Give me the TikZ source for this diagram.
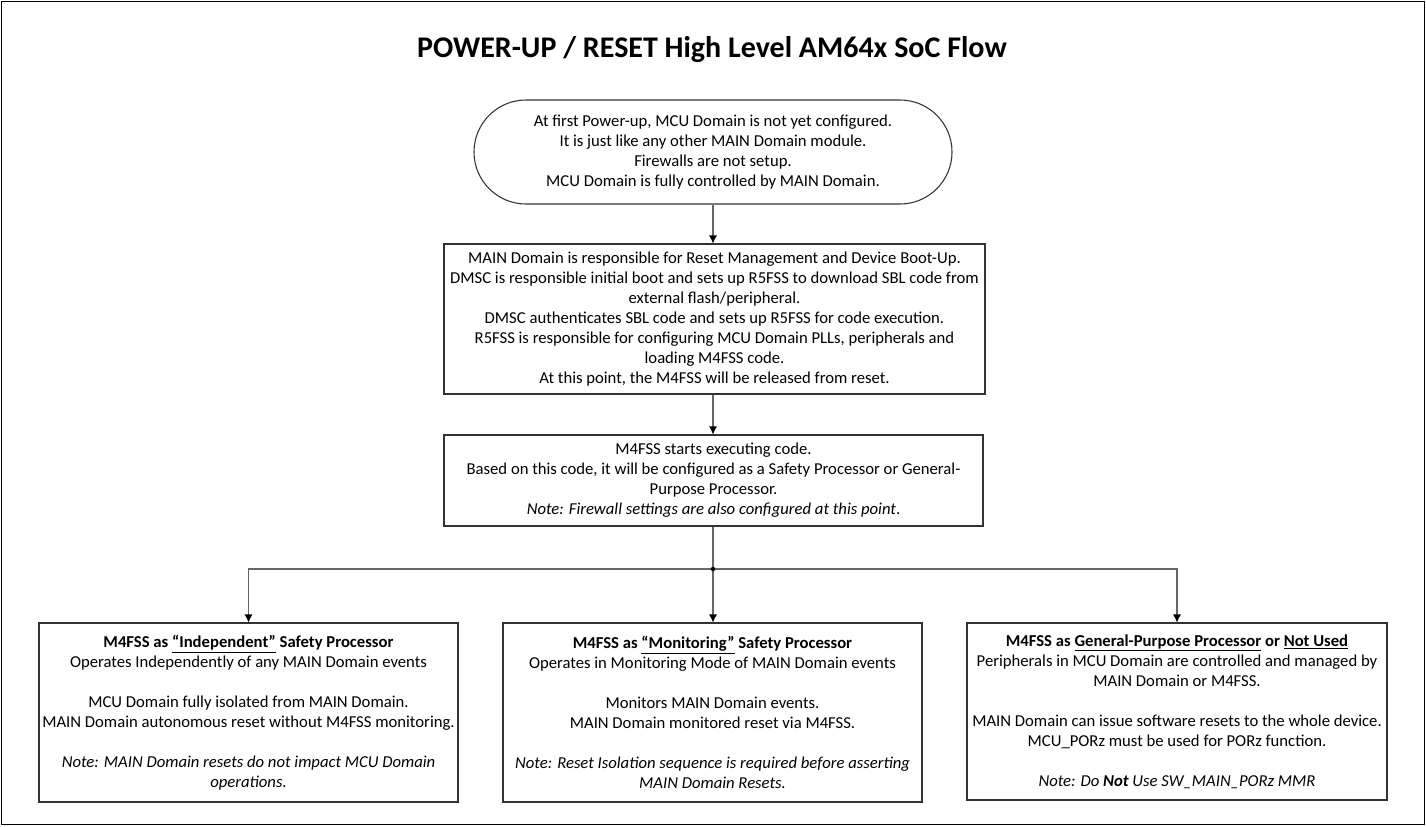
\documentclass[tikz,border=0pt]{standalone}
\usepackage{fontspec}
\setmainfont{Carlito}
\usetikzlibrary{arrows.meta,shapes.misc}

\begin{document}
\begin{tikzpicture}[x=0.75pt,y=-0.75pt,
    box/.style={draw=black!80,line width=0.8pt,align=center,inner sep=0pt,
      font=\fontsize{12.5}{15}\selectfont},
    flow/.style={draw=black!60,line width=0.8pt,-{Latex[length=6pt,width=6pt,black]}}]
\useasboundingbox (0,0) rectangle (1426,826);
\draw[line width=0.6pt] (1,1) rectangle (1424,824);

\node[font=\bfseries\fontsize{22.5}{26}\selectfont] (title) at (712,50)
  {POWER-UP / RESET High Level AM64x SoC Flow};

% the three steps of the flow
\node[box,rounded rectangle,minimum width=358.5pt,minimum height=78pt] (firstup) at (713,152)
  {At first Power-up, MCU Domain is not yet configured.\\
   It is just like any other MAIN Domain module.\\
   Firewalls are not setup.\\
   MCU Domain is fully controlled by MAIN Domain.};
\node[box,minimum width=405.75pt,minimum height=112.5pt] (mainboot) at (714.5,319)
  {MAIN Domain is responsible for Reset Management and Device Boot-Up.\\
   DMSC is responsible initial boot and sets up R5FSS to download SBL code from\\
   external flash/peripheral.\\
   DMSC authenticates SBL code and sets up R5FSS for code execution.\\
   R5FSS is responsible for configuring MCU Domain PLLs, peripherals and\\
   loading M4FSS code.\\
   At this point, the M4FSS will be released from reset.};
\node[box,minimum width=404.25pt,minimum height=68.25pt] (mstart) at (713.5,480.5)
  {M4FSS starts executing code.\\
   Based on this code, it will be configured as a Safety Processor or General-\\
   Purpose Processor.\\
   \textit{Note: Firewall settings are also configured at this point}.};

% the three ways M4FSS can be used
\node[box,minimum width=314.25pt,minimum height=134.25pt] (indep) at (248.5,712.5)
  {\textbf{M4FSS as \underline{“Independent”} Safety Processor}\\
   Operates Independently of any MAIN Domain events\\[15pt]
   MCU Domain fully isolated from MAIN Domain.\\
   MAIN Domain autonomous reset without M4FSS monitoring.\\[15pt]
   \textit{Note: MAIN Domain resets do not impact MCU Domain}\\
   \textit{operations.}};
\node[box,minimum width=314.25pt,minimum height=134.25pt] (monit) at (712.5,712.5)
  {\textbf{M4FSS as \underline{“Monitoring”} Safety Processor}\\
   Operates in Monitoring Mode of MAIN Domain events\\[15pt]
   Monitors MAIN Domain events.\\
   MAIN Domain monitored reset via M4FSS.\\[15pt]
   \textit{Note: Reset Isolation sequence is required before asserting}\\
   \textit{MAIN Domain Resets.}};
\node[box,minimum width=315pt,minimum height=132.75pt] (genpurp) at (1177,711.5)
  {\textbf{M4FSS as \underline{General-Purpose Processor} or \underline{Not Used}}\\
   Peripherals in MCU Domain are controlled and managed by\\
   MAIN Domain or M4FSS.\\[15pt]
   MAIN Domain can issue software resets to the whole device.\\
   MCU\_PORz must be used for PORz function.\\[15pt]
   \textit{Note: Do \textbf{Not} Use SW\_MAIN\_PORz MMR}};

\coordinate (split) at (713,569);

\draw[flow] (firstup.south) -- (firstup.south |- mainboot.north);
\draw[flow] (mainboot.south -| firstup.south) -- (firstup.south |- mstart.north);
\draw[draw=black!60,line width=0.8pt] (mstart.south -| split) -- (split);
\draw[flow] (split) -| (indep.north);
\draw[flow] (split) -- (split |- monit.north);
\draw[flow] (split) -| (genpurp.north);
\fill (split) circle (2.2);
\end{tikzpicture}
\end{document}
